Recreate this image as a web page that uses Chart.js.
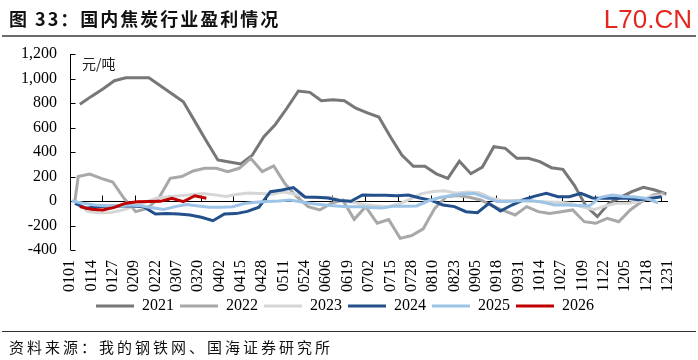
<!DOCTYPE html>
<html><head><meta charset="utf-8">
<script src="https://cdn.jsdelivr.net/npm/chart.js@4.4.1/dist/chart.umd.min.js"></script>
<style>
html,body{margin:0;padding:0;background:#fff;}
#wrap{position:relative;width:698px;height:360px;overflow:hidden;background:#fff;}
#c{position:absolute;left:0;top:0;}
.t{position:absolute;white-space:nowrap;line-height:1;}
#title{left:9px;top:9px;font-weight:bold;font-size:18px;font-family:"Noto Sans CJK SC";letter-spacing:2px;color:#111;}
#wm{right:6px;top:6px;font-size:26px;font-family:"Liberation Sans",Arial,sans-serif;color:#e3261f;}
#hr1{position:absolute;left:2px;top:35px;width:694px;height:2px;background:#6b6b6b;}
#hr2{position:absolute;left:2px;top:331px;width:694px;height:1px;background:#333;}
#src{left:9px;top:339px;font-size:15px;font-family:"Noto Sans CJK SC";letter-spacing:3px;color:#111;}
</style></head>
<body>
<div id="wrap">
<canvas id="c" width="698" height="360"></canvas>
<div class="t" id="title">图 33：国内焦炭行业盈利情况</div>
<div class="t" id="wm">L70.CN</div>
<div id="hr1"></div>
<div id="hr2"></div>
<div class="t" id="src">资料来源：我的钢铁网、国海证券研究所</div>
</div>
<script>
// x tick labels (MMDD), one every 13 days from day 0 (0101) to day 364 (1231)
const xTickLabels = ['0101','0114','0127','0209','0222','0307','0320','0402','0415','0428','0511','0524','0606','0619','0702','0715','0728','0810','0823','0905','0918','0931','1014','1027','1109','1122','1205','1218','1231'];
const seriesNames = ['2021','2022','2023','2024','2025','2026'];
// day-of-year of the first weekly reading for each year
const startDays = [6, 5, 4, 3, 1, 6];
// weekly values (元/吨)
const v2021 = [790,854,915,982,1006,1006,1006,941,875,810,650,490,335,318,302,375,525,625,757,898,887,819,827,819,757,720,685,525,375,283,283,222,185,325,223,277,443,430,348,348,321,272,259,128,-40,-128,-19,30,76,112,90,57];
const v2022 = [200,220,185,155,20,-87,-60,22,185,200,245,267,267,240,267,348,240,286,138,35,-46,-73,-19,8,-150,-46,-182,-152,-305,-282,-227,-60,35,45,30,8,-40,-79,-114,-46,-87,-101,-87,-73,-169,-182,-141,-169,-73,-5,49,63];
const v2023 = [-16,-87,-96,-93,-74,-43,-8,24,35,43,52,62,50,36,55,66,62,55,76,55,30,28,30,6,-10,-28,-38,-46,-27,15,60,78,84,64,74,68,25,5,5,0,-5,-8,-10,-20,-50,-70,-40,-19,-19,0,38,49];
const v2024 = [-20,-60,-45,-42,-40,-40,-48,-106,-102,-106,-115,-133,-161,-106,-103,-85,-50,76,90,109,33,30,25,5,-2,49,46,46,43,49,25,5,-33,-46,-87,-95,-19,-82,-33,10,40,63,35,35,63,25,22,22,22,10,20,35];
const v2025 = [0,-19,-33,-38,-40,-33,-38,-55,-70,-46,-28,-40,-50,-50,-46,-20,-10,-5,0,8,-8,-22,-32,-40,-46,-46,-53,-58,-42,-42,-40,0,28,45,58,62,30,-5,-5,3,3,-10,-33,-33,-36,-40,30,49,37,33,20,-15];
const v2026 = [-46,-68,-73,-52,-18,-7,-5,-3,22,-5,43,22];
// 2022 also shows a reading of 0 just before its first weekly value
const lead2022 = {day: 3, value: 0};
const seriesValues = [v2021, v2022, v2023, v2024, v2025, v2026];
const seriesColors = ['#777777','#a8a8a8','#d6d6d6','#234f8b','#9dc3e6','#c00000'];
const yTicks = {min: -400, max: 1200, step: 200};
const xRange = {min: 0, max: 364, labelStep: 13};
const zeroAxisTicks = {start: 19.5, step: 20};
const unitText = '元/吨';

const datasets = seriesValues.map((vals, i) => {
  const pts = vals.map((v, k) => ({x: startDays[i] + 7 * k, y: v}));
  if (i === 1) pts.unshift({x: lead2022.day, y: lead2022.value});
  return {
    label: seriesNames[i], data: pts,
    borderColor: seriesColors[i], backgroundColor: seriesColors[i],
    borderWidth: 3, pointRadius: 0, tension: 0,
    order: seriesNames.length - i
  };
});

const axisPlugin = {
  id: 'axisPlugin',
  beforeDatasetsDraw(chart) {
    const {ctx, chartArea: a, scales: {x, y}} = chart;
    ctx.save();
    ctx.strokeStyle = '#000';
    ctx.lineWidth = 1;
    ctx.beginPath();
    const x0 = Math.round(a.left) + 0.5;
    ctx.moveTo(x0, y.getPixelForValue(yTicks.max));
    ctx.lineTo(x0, y.getPixelForValue(yTicks.min));
    for (let v = yTicks.min; v <= yTicks.max; v += yTicks.step) {
      const py = Math.round(y.getPixelForValue(v)) + 0.5;
      ctx.moveTo(x0, py); ctx.lineTo(x0 + 5, py);
    }
    const yz = Math.round(y.getPixelForValue(0)) + 0.5;
    ctx.moveTo(a.left, yz); ctx.lineTo(a.right, yz);
    for (let d = zeroAxisTicks.start; d <= xRange.max; d += zeroAxisTicks.step) {
      const px = Math.round(x.getPixelForValue(d)) + 0.5;
      ctx.moveTo(px, yz); ctx.lineTo(px, yz - 6);
    }
    ctx.stroke();
    ctx.fillStyle = '#222';
    ctx.font = '14px "Noto Sans CJK SC"';
    ctx.textBaseline = 'middle';
    ctx.fillText(unitText, a.left + 12, y.getPixelForValue(yTicks.max) + 10);
    ctx.restore();
  }
};

Chart.defaults.font.family = '"Liberation Serif","Times New Roman",serif';
Chart.defaults.color = '#000';

new Chart(document.getElementById('c'), {
  type: 'line',
  data: {datasets},
  plugins: [axisPlugin],
  options: {
    responsive: false, animation: false,
    layout: {padding: {left: 0, right: 8, top: 54, bottom: 36}},
    scales: {
      x: {
        type: 'linear', min: xRange.min, max: xRange.max,
        grid: {display: false, drawTicks: false}, border: {display: false},
        ticks: {stepSize: xRange.labelStep, autoSkip: false, minRotation: 90, maxRotation: 90, padding: 10,
          font: {size: 16},
          callback: (v) => xTickLabels[Math.round((v - xRange.min) / xRange.labelStep)]},
        afterFit: (s) => { s.height = 42; }
      },
      y: {
        min: yTicks.min, max: yTicks.max,
        grid: {display: false, drawTicks: false}, border: {display: false},
        ticks: {stepSize: yTicks.step, padding: 13, font: {size: 16},
          callback: (v) => v.toLocaleString('en-US')},
        afterFit: (s) => { s.width = 70; }
      },
      yRight: {
        position: 'right', display: true,
        grid: {display: false, drawTicks: false}, border: {display: false},
        ticks: {display: false},
        afterFit: (s) => { s.width = 22; }
      }
    },
    plugins: {
      legend: {
        position: 'bottom', align: 'center',
        labels: {
          boxWidth: 38, boxHeight: 3, padding: 6, font: {size: 16}, color: '#000',
          sort: (a, b) => a.datasetIndex - b.datasetIndex,
          generateLabels(chart) {
            return Chart.defaults.plugins.legend.labels.generateLabels(chart)
              .map(l => Object.assign(l, {lineWidth: 0, fillStyle: l.strokeStyle}));
          }
        }
      },
      tooltip: {enabled: false}
    }
  }
});
</script>
</body></html>
